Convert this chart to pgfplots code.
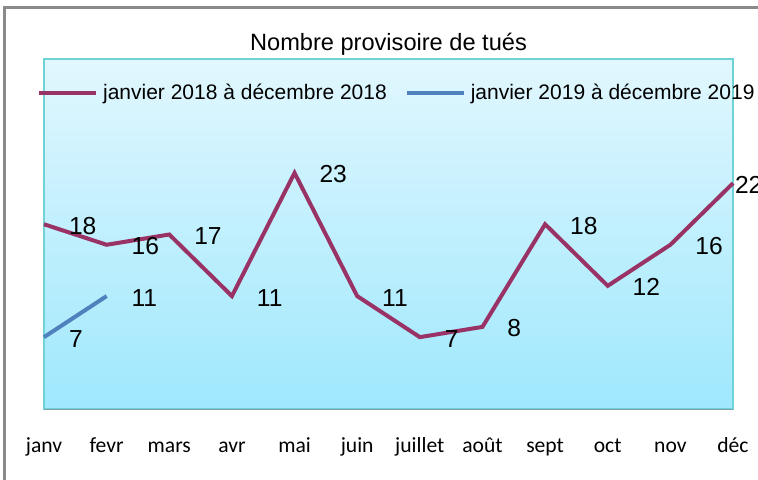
\documentclass[border=0pt]{standalone}
\usepackage{pgfplots}
\pgfplotsset{compat=1.18}
\usepackage{pgfplotstable}
\usepackage{fontspec}
\setmainfont{Liberation Sans}
\newfontfamily\calib{Carlito}
\definecolor{ser1}{HTML}{993366}
\definecolor{ser2}{HTML}{4F81BD}
\definecolor{bgtop}{HTML}{E1F7FE}
\definecolor{bgbot}{HTML}{9FE8FD}
\definecolor{framec}{HTML}{6ED2D6}
\definecolor{botline}{HTML}{7F9FAA}
\definecolor{outer}{HTML}{8A8A8A}

\pgfplotstableread{
x y dx
0 18 11.5
1 16 11.5
2 17 11.5
3 11 11.5
4 23 11.5
5 11 11.5
6 7 11.5
7 8 11.5
8 18 11.5
9 12 11.5
10 16 11.5
11 22 0
}\dataA

\pgfplotstableread{
x y dx
0 7 11.5
1 11 11.5
}\dataB

\begin{document}
\begin{tikzpicture}
\begin{axis}[
  at={(0,0)}, anchor=south west, scale only axis,
  width=344.5pt, height=175pt,
  xmin=0, xmax=11, ymin=0, ymax=34.1,
  enlargelimits=false, clip=false,
  axis x line=bottom, axis y line=none,
  x axis line style={draw=botline, -},
  axis background/.style={top color=bgtop, bottom color=bgbot, draw=framec, line width=0.6pt},
  xtick={0,...,11},
  xticklabels={janv,fevr,mars,avr,mai,juin,juillet,août,sept,oct,nov,déc},
  xticklabel style={font=\calib\fontsize{10.8}{12}\selectfont, anchor=base, yshift=-22pt, inner sep=0pt},
  major tick length=0pt,
  ytick=\empty,
  title={Nombre provisoire de tués},
  title style={font=\fontsize{11.8}{14}\selectfont, at={(axis description cs:0.5,1.0457)}, anchor=center, inner sep=0pt, yshift=-6.5pt},
  legend style={draw=none, fill=none, inner sep=0pt, outer sep=0pt,
    at={(axis description cs:-0.010,0.903)}, anchor=west,
    font=\fontsize{10.5}{12}\selectfont,
    nodes={inner sep=2.5pt},
    /tikz/every even column/.append style={column sep=6.5pt}},
  legend columns=2,
  legend image code/.code={\draw[#1] (0pt,0pt) -- (26pt,0pt); \path (0pt,0pt) -- (28.5pt,0pt);},
  visualization depends on={\thisrow{dx} \as \dx},
  every node near coord/.append style={anchor=west, inner sep=0pt, xshift=\dx pt, yshift=-0.75pt,
    font=\fontsize{12.3}{14}\selectfont, text=black},
]
\addplot[ser1, line width=2pt, nodes near coords, point meta=explicit symbolic] table[x=x, y=y, meta=y] {\dataA};
\addlegendentry{janvier 2018 à décembre 2018}
\addplot[ser2, line width=2pt, nodes near coords, point meta=explicit symbolic] table[x=x, y=y, meta=y] {\dataB};
\addlegendentry{janvier 2019 à décembre 2019}
\end{axis}
\draw[outer, line width=1.5pt] (-19.5pt,-60pt) -- (-19.5pt,200.5pt) -- (380pt,200.5pt);
\pgfresetboundingbox
\path[use as bounding box] (-22pt,-35.5pt) rectangle (357pt,204.5pt);
\end{tikzpicture}
\end{document}
